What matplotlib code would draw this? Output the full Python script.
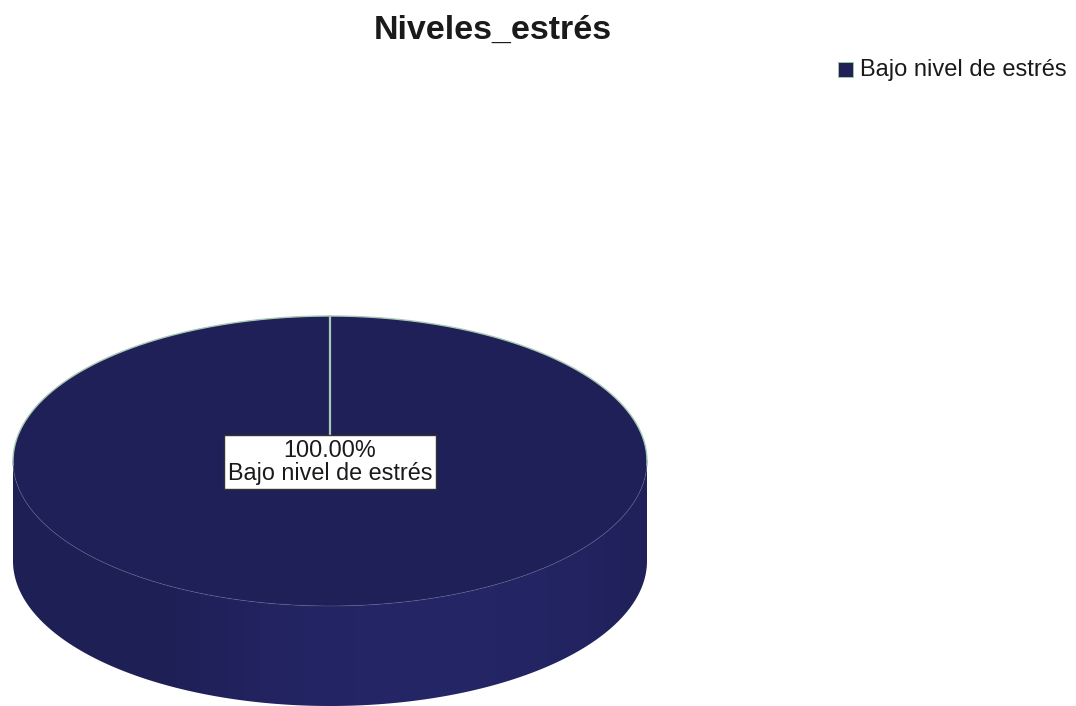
import numpy as np
import matplotlib.pyplot as plt
from matplotlib.patches import Polygon, Rectangle
import matplotlib.colors as mcolors

plt.rcParams['font.family'] = ['Liberation Sans', 'DejaVu Sans']

# Datos
categorias = ["Bajo nivel de estrés"]
valores = [100.0]
colores = ["#1f2057"]
titulo = "Niveles_estrés"

# geometría del pastel 3D (pixeles)
cx, cy = 330, 461
rx, ry = 317, 145
prof = 100
borde = "#a8c8b4"


def punto(t):
    return cx + rx * np.cos(t), cy - ry * np.sin(t)


fig = plt.figure(figsize=(10.76, 7.06), dpi=100)
ax = fig.add_axes([0, 0, 1, 1])
ax.set_xlim(0, 1076)
ax.set_ylim(706, 0)
ax.axis('off')

total = sum(valores)
inicio = 90.0
cortes = []
for v, c in zip(valores, colores):
    ang = 360.0 * v / total
    cortes.append((np.radians(inicio - ang), np.radians(inicio), c))
    inicio -= ang

# lateral (mitad frontal) con degradado horizontal
for t0, t1, c in cortes:
    base = np.array(mcolors.to_rgb(c))
    lo, hi = max(t0, -np.pi), min(t1, 0.0)
    if lo >= hi:
        lo, hi = -np.pi, 0.0
    ts = np.linspace(lo, hi, 300)
    xs, ys = punto(ts)
    pts = list(zip(xs, ys)) + list(zip(xs[::-1], ys[::-1] + prof))
    lado = Polygon(pts, closed=True, fc='none', ec='none')
    ax.add_patch(lado)
    gx = np.linspace(cx - rx, cx + rx, 400)
    u = (gx - cx) / rx
    luz = 0.97 + 0.2 * np.clip(1 - ((u - 0.3) / 0.85) ** 2, 0, 1)
    grad = np.clip(base[None, None, :] * luz[None, :, None], 0, 1)
    im = ax.imshow(grad, extent=(cx - rx, cx + rx, cy + ry + prof + 2, cy - 2),
                   aspect='auto', interpolation='bilinear', zorder=1)
    im.set_clip_path(lado)

# tapa superior
for t0, t1, c in cortes:
    ts = np.linspace(t0, t1, 400)
    xs, ys = punto(ts)
    pts = list(zip(xs, ys))
    if t1 - t0 < 2 * np.pi - 1e-6:
        pts.append((cx, cy))
    ax.add_patch(Polygon(pts, closed=True, fc=c, ec='none', zorder=2))

# borde trasero de la tapa
tt = np.linspace(-0.03, np.pi + 0.03, 300)
xs, ys = punto(tt)
ax.plot(xs, ys, color=borde, lw=1.0, zorder=3)

# borde frontal de la tapa
tt = np.linspace(np.pi, 2 * np.pi, 200)
xs, ys = punto(tt)
ax.plot(xs, ys, color="#5a6a98", lw=0.6, alpha=0.5, zorder=3)

# radios de separación
for t0, t1, c in cortes:
    xe, ye = punto(t1)
    ax.plot([cx, xe], [cy, ye], color=borde, lw=1.6, zorder=3)

# etiquetas
for v, cat in zip(valores, categorias):
    ax.text(cx, 462, f"{v:.2f}%\n{cat}", ha='center', va='center', fontsize=16.8,
            linespacing=1.0, color='#1a1a1a', zorder=4,
            bbox=dict(boxstyle='square,pad=0.17', fc='white', ec='#333333', lw=1.0))

ax.text(493, 30, titulo, ha='center', va='center', fontsize=24.5, fontweight='bold',
        color='#1a1a1a')

# leyenda
for i, (cat, c) in enumerate(zip(categorias, colores)):
    ax.add_patch(Rectangle((838, 62 + 22 * i), 15, 15, fc=c, ec='#9fd09f', lw=0.6))
    ax.text(860, 70 + 22 * i, cat, ha='left', va='center', fontsize=17, color='#1a1a1a')

fig.savefig("out.png", dpi=100)
